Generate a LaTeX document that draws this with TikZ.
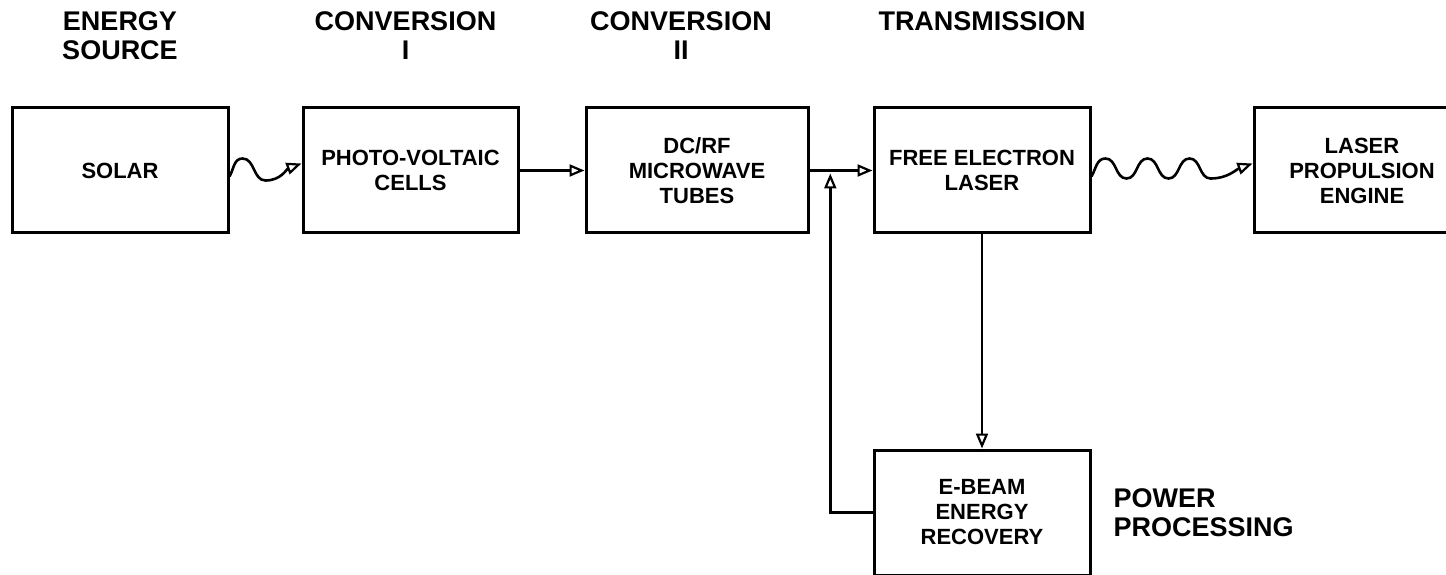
\documentclass[tikz,border=0pt]{standalone}
\usepackage{fontspec}
\setmainfont{Liberation Sans}
\usetikzlibrary{positioning,calc,arrows.meta}

\begin{document}
\begin{tikzpicture}
    [x=1pt, y=1pt,
    blk/.style={draw, line width=3pt, minimum width=216pt, minimum height=125pt, inner sep=0pt, align=center, font=\bfseries\fontsize{22}{25}\selectfont},
    head/.style={inner sep=0pt, align=center, font=\bfseries\fontsize{27}{29}\selectfont},
    arr/.style={line width=2.6pt, -{Triangle[open, length=15pt, width=12pt, line width=2.2pt]}},
    wave/.style={arr, line width=2.6pt}]
        \useasboundingbox (0,0) rectangle (1446,574);
        \node[blk] (solar) at (120,403.5) {SOLAR};
        \node[blk, minimum width=215pt, right=72pt of solar] (pv) {PHOTO-VOLTAIC\\CELLS};
        \node[blk, minimum width=222pt, right=65pt of pv] (dcrf) {DC/RF\\MICROWAVE\\TUBES};
        \node[blk, right=63pt of dcrf] (fel) {FREE ELECTRON\\LASER};
        \node[blk, right=161pt of fel] (lpe) {LASER\\PROPULSION\\ENGINE};
        \node[blk, below=214pt of fel] (ebeam) {E-BEAM\\ENERGY\\RECOVERY};

        \node[head] (hsrc) at ([yshift=71pt]solar.north) {ENERGY\\SOURCE};
        \node[head] (hconv1) at ([xshift=-5pt, yshift=71pt]pv.north) {CONVERSION\\I};
        \node[head] (hconv2) at ([xshift=-16pt, yshift=71pt]dcrf.north) {CONVERSION\\II};
        \node[head] (htrans) at ([yshift=85pt]fel.north) {TRANSMISSION};
        \node[head, align=left, right=22pt of ebeam] (hpow) {POWER\\PROCESSING};

        \draw[wave] ([yshift=-6pt]solar.east) to[out=60, in=180] ++(13,18)
            to[out=0, in=180] ++(23,-22) to[out=0, in=200] ([yshift=7pt]pv.west);
        \draw[arr] (pv) -- (dcrf);
        \draw[arr] (dcrf) -- (fel);
        \draw[wave] ([yshift=-6pt]fel.east) to[out=60, in=180] ++(14,18)
            to[out=0, in=180] ++(21,-20) to[out=0, in=180] ++(21,20)
            to[out=0, in=180] ++(21,-20) to[out=0, in=180] ++(21,20)
            to[out=0, in=180] ++(21,-20) to[out=0, in=200] ([yshift=7pt]lpe.west);
        \draw[arr] (fel) -- (ebeam);
        \coordinate (fb) at ($(dcrf.east)!0.33!(fel.west)$);
        \draw[arr] (ebeam.west) -| ([yshift=-3pt]fb);
\end{tikzpicture}
\end{document}
